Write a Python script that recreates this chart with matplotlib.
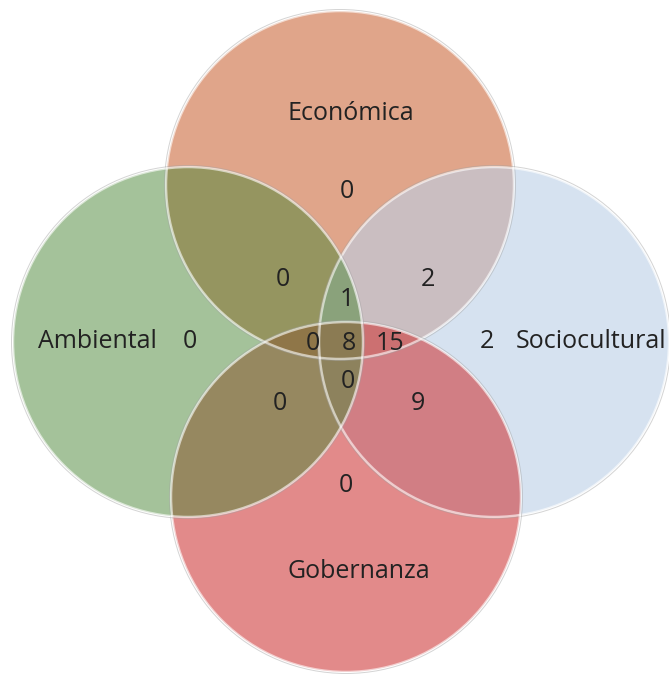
import matplotlib.pyplot as plt
from matplotlib.patches import Circle

# sets of the diagram
sets = ['Económica', 'Sociocultural', 'Gobernanza', 'Ambiental']

# region membership (E, S, G, A) and count
regions = ['E', 'A', 'S', 'G', 'EA', 'ES', 'EAS', 'EAG', 'EASG', 'ESG', 'ASG', 'AG', 'SG']
counts = [0, 0, 2, 0, 0, 2, 1, 0, 8, 15, 0, 0, 9]

# ---- layout (pixel coordinates, y down) ----
circles = {
    # name: (cx, cy, r, face color, alpha), drawn in this order
    'Económica':     (340, 185, 174, '#e0a58a', 1.0),
    'Sociocultural': (494, 342, 175, '#bccfe6', 0.6),
    'Gobernanza':    (346, 497, 175, '#cf3c3c', 0.6),
    'Ambiental':     (188, 342, 175, '#4b8737', 0.5),
}
label_pos = {
    'Económica': (351, 113),
    'Ambiental': (97, 342),
    'Sociocultural': (591, 342),
    'Gobernanza': (359, 571),
}
count_pos = {
    'E': (347, 191), 'A': (190, 342), 'S': (487, 342), 'G': (346, 485),
    'EA': (283, 279), 'ES': (428, 279), 'EAS': (347, 300),
    'EAG': (313, 344), 'EASG': (349, 344), 'ESG': (390, 344),
    'ASG': (348, 382), 'AG': (280, 404), 'SG': (418, 404),
}

plt.rcParams['font.family'] = ['Open Sans', 'DejaVu Sans']

fig = plt.figure(figsize=(6.69, 6.75), dpi=100)
ax = fig.add_axes([0, 0, 1, 1])
ax.set_xlim(0, 669)
ax.set_ylim(675, 0)
ax.axis('off')

for name in ['Económica', 'Sociocultural', 'Gobernanza', 'Ambiental']:
    cx, cy, r, col, a = circles[name]
    ax.add_patch(Circle((cx, cy), r, facecolor=col, alpha=a, edgecolor='none'))

# light rim on every circle
for name in sets:
    cx, cy, r, col, a = circles[name]
    ax.add_patch(Circle((cx, cy), r, facecolor='none', edgecolor='white', lw=1.8, alpha=0.6))
    ax.add_patch(Circle((cx, cy), r + 1.5, facecolor='none', edgecolor='#a0a0a0', lw=0.7, alpha=0.45))

txt = '#222222'
for name in sets:
    x, y = label_pos[name]
    ax.text(x, y, name, ha='center', va='center', fontsize=18, color=txt)

for reg, n in zip(regions, counts):
    x, y = count_pos[reg]
    ax.text(x, y, str(n), ha='center', va='center', fontsize=18, color=txt)

plt.savefig('out.png', dpi=100)
